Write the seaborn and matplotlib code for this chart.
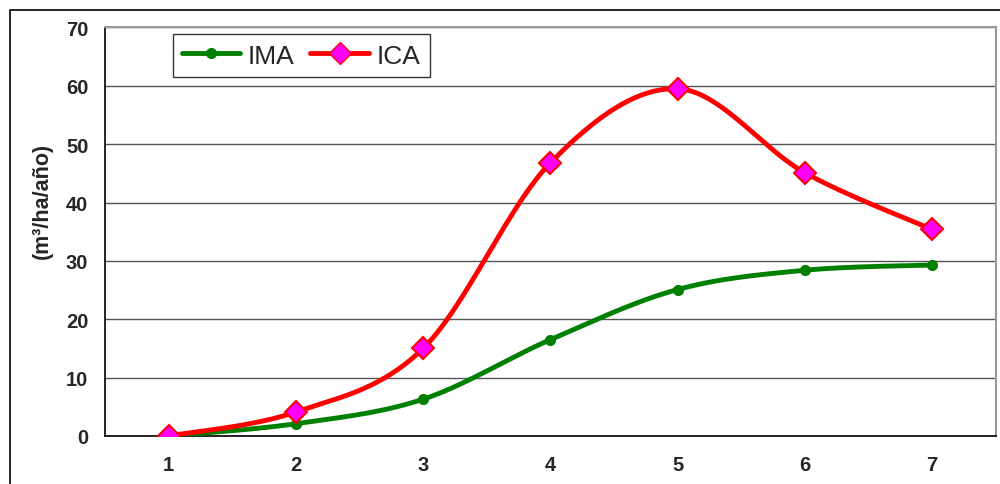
import numpy as np
import matplotlib
matplotlib.use("Agg")
import matplotlib.pyplot as plt
import seaborn as sns
import pandas as pd
from matplotlib.patches import Rectangle
from matplotlib.lines import Line2D

# data
edades = [1, 2, 3, 4, 5, 6, 7]
ima = [0.0, 2.1, 6.3, 16.5, 25.1, 28.4, 29.3]
ica = [0.0, 4.1, 15.0, 46.8, 59.5, 45.1, 35.4]
y_ticks = [0, 10, 20, 30, 40, 50, 60, 70]


def excel_smooth(x, y, n=40):
    # Catmull-Rom style bezier smoothing like Excel's "smoothed line"
    x = np.asarray(x, float)
    y = np.asarray(y, float)
    px = np.concatenate([[x[0]], x, [x[-1]]])
    py = np.concatenate([[y[0]], y, [y[-1]]])
    xs, ys = [], []
    t = np.linspace(0, 1, n)
    for i in range(1, len(px) - 2):
        p0 = np.array([px[i], py[i]])
        p3 = np.array([px[i + 1], py[i + 1]])
        p1 = p0 + (np.array([px[i + 1], py[i + 1]]) - np.array([px[i - 1], py[i - 1]])) / 6
        p2 = p3 - (np.array([px[i + 2], py[i + 2]]) - np.array([px[i], py[i]])) / 6
        b = ((1 - t) ** 3)[:, None] * p0 + (3 * (1 - t) ** 2 * t)[:, None] * p1 \
            + (3 * (1 - t) * t ** 2)[:, None] * p2 + (t ** 3)[:, None] * p3
        xs.extend(b[:, 0])
        ys.extend(b[:, 1])
    return np.array(xs), np.array(ys)


sns.set_style("white")
plt.rcParams['font.family'] = ['Liberation Sans', 'DejaVu Sans']

fig = plt.figure(figsize=(10, 4.85), dpi=100)
ax = fig.add_axes([0.105, 0.099, 0.8907, 0.8423])

df = pd.DataFrame({"edad": edades, "IMA": ima, "ICA": ica})

sx, sy = excel_smooth(df["edad"], df["IMA"])
sns.lineplot(x=sx, y=sy, ax=ax, color="#008000", linewidth=3.5, sort=False, zorder=3)
sx, sy = excel_smooth(df["edad"], df["ICA"])
sns.lineplot(x=sx, y=sy, ax=ax, color="#ff0000", linewidth=3.5, sort=False, zorder=4)

ax.plot(df["edad"], df["IMA"], linestyle="none", marker="o", markersize=7,
        color="#008000", zorder=5)
ax.plot(df["edad"], df["ICA"], linestyle="none", marker="D", markersize=11,
        markerfacecolor="#ff00ff", markeredgecolor="#ff0000", markeredgewidth=1.5, zorder=6)

# legend handles
h1 = Line2D([], [], color="#008000", linewidth=3.5, marker="o", markersize=7)
h2 = Line2D([], [], color="#ff0000", linewidth=3.5, marker="D", markersize=11,
            markerfacecolor="#ff00ff", markeredgecolor="#ff0000")
leg = ax.legend([h1, h2], ["IMA", "ICA"], loc="upper left", bbox_to_anchor=(0.076, 0.983),
                ncol=2, frameon=True, fancybox=False, fontsize=19, handlelength=2.2,
                columnspacing=0.6, handletextpad=0.3, borderpad=0.35, borderaxespad=0)
leg.get_frame().set_edgecolor("black")
leg.get_frame().set_linewidth(1.0)

ax.set_xlim(0.5, 7.5)
ax.set_ylim(0, 70)
ax.set_yticks(y_ticks)
ax.set_xticks(edades)
ax.set_xticks(np.arange(0.5, 7.6, 1), minor=True)
ax.tick_params(axis="x", which="major", length=0, pad=14)
ax.tick_params(axis="x", which="minor", length=5, width=1, color="black", direction="out")
ax.tick_params(axis="y", length=5, width=1, color="black", direction="out", pad=7)
for lab in ax.get_xticklabels() + ax.get_yticklabels():
    lab.set_fontsize(14.5)
    lab.set_fontweight("bold")

ax.yaxis.grid(True, color="#555555", linewidth=1.0)
ax.set_axisbelow(True)
for s in ["top", "right"]:
    ax.spines[s].set_color("#999999")
    ax.spines[s].set_linewidth(1.5)
for s in ["left", "bottom"]:
    ax.spines[s].set_color("black")
    ax.spines[s].set_linewidth(1.2)

ax.set_ylabel("(m³/ha/año)", fontsize=15.5, fontweight="bold")
ax.yaxis.set_label_coords(-0.058, 0.577)
ax.set_xlabel("")

# outer chart frame
fig.patches.append(Rectangle((0.010, -0.1), 1.1, 0.1 + (485 - 11) / 485, transform=fig.transFigure,
                             fill=False, edgecolor="black", linewidth=1.2, clip_on=False))

fig.savefig("out.png", dpi=100)
